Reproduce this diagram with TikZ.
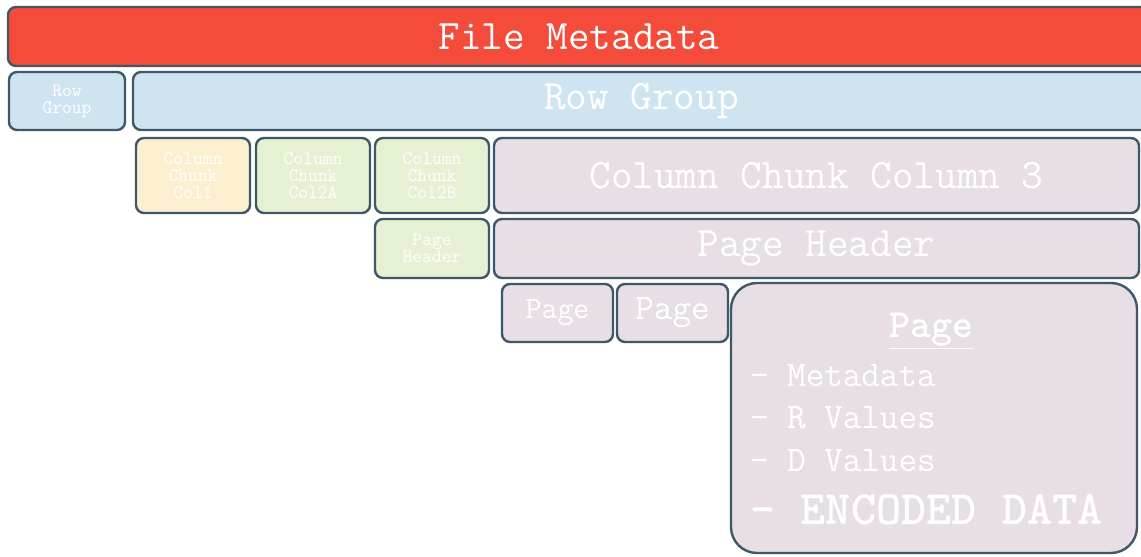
\documentclass[tikz,border=0pt]{standalone}
\usepackage{fontspec}
\begin{document}
\definecolor{metared}{HTML}{F44B3B}
\definecolor{groupblue}{HTML}{CFE4F1}
\definecolor{chunkyellow}{HTML}{FCEFD0}
\definecolor{chunkgreen}{HTML}{E6F0D2}
\definecolor{chunkpink}{HTML}{E8DEE5}
\definecolor{edge}{HTML}{3E5868}
\begin{tikzpicture}[x=1pt,y=1pt,
  block/.style={draw=edge, line width=2.4pt, rounded corners=8pt, text=white,
    font=\ttfamily, inner sep=0pt, align=center},
  bigtext/.style={font=\ttfamily\fontsize{42}{42}\selectfont},
  smalltext/.style={font=\ttfamily\fontsize{19}{17}\selectfont},
  pagetext/.style={font=\ttfamily\fontsize{36}{36}\selectfont},
  listitem/.style={text=white, inner sep=0pt, anchor=base west,
    font=\ttfamily\fontsize{36}{36}\selectfont}]
\fill[white] (0,0) rectangle (1141,557);
\useasboundingbox (0,0) rectangle (1141,557);

% file level
\node[block, bigtext, fill=metared, minimum width=1142, minimum height=59] (meta) at (579,520.5) {File Metadata};

% row groups
\node[block, smalltext, fill=groupblue, minimum width=116, minimum height=58] (rgsmall) at (67,456) {Row\\Group};
\node[block, bigtext, fill=groupblue, minimum width=1017, minimum height=58] (rgbig) at (641.5,456) {Row Group};

% column chunks
\node[block, smalltext, fill=chunkyellow, minimum width=114, minimum height=75] (cc1) at (193,381.5) {Column\\Chunk\\Col1};
\node[block, smalltext, fill=chunkgreen, minimum width=114, minimum height=75] (cc2a) at (313,381.5) {Column\\Chunk\\Col2A};
\node[block, smalltext, fill=chunkgreen, minimum width=114, minimum height=75] (cc2b) at (432,381.5) {Column\\Chunk\\Col2B};
\node[block, bigtext, fill=chunkpink, minimum width=645, minimum height=75] (cc3) at (816.5,381.5) {Column Chunk Column 3};

% page headers
\node[block, smalltext, fill=chunkgreen, minimum width=114, minimum height=59] (phsmall) at (432,308.5) {Page\\Header};
\node[block, bigtext, fill=chunkpink, minimum width=645, minimum height=59] (phbig) at (816.5,308.5) {Page Header};

% pages
\node[block, font=\ttfamily\fontsize{31}{31}\selectfont, fill=chunkpink, minimum width=111, minimum height=58] (pg1) at (557.5,244) {Page};
\node[block, pagetext, fill=chunkpink, minimum width=111, minimum height=58] (pg2) at (672.5,244) {Page};
\node[block, rounded corners=26pt, fill=chunkpink, minimum width=406, minimum height=270] (pgbig) at (934,139) {};

% page contents
\node[text=white, inner sep=0pt, anchor=base, font=\ttfamily\bfseries\fontsize{40}{40}\selectfont] (pgtitle) at (931,219) {\underline{Page}};
\node[listitem] (itmeta) at (750,170) {- Metadata};
\node[listitem] (itr) at (750,128) {- R Values};
\node[listitem] (itd) at (750,85) {- D Values};
\node[listitem, font=\ttfamily\bfseries\fontsize{48}{48}\selectfont] (itenc) at (750,32) {- ENCODED DATA};
\end{tikzpicture}
\end{document}
